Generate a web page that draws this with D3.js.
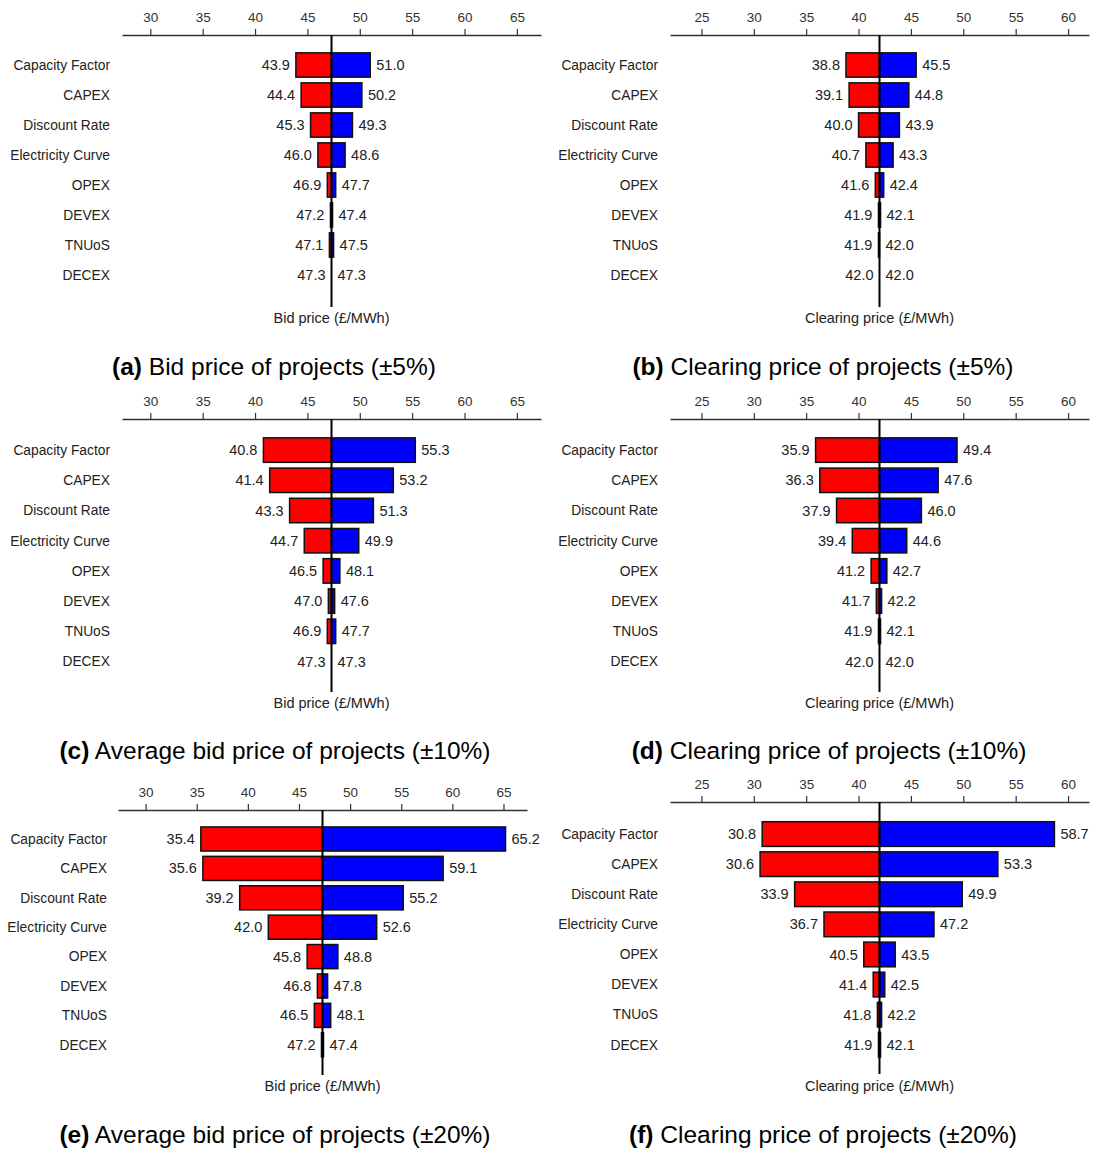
<!DOCTYPE html>
<html>
<head>
<meta charset="utf-8">
<script src="https://cdn.jsdelivr.net/npm/d3@7"></script>
<style>
  html, body { margin: 0; padding: 0; background: #fff; }
  svg { display: block; font-family: "Liberation Sans", Arial, Helvetica, sans-serif; }
</style>
</head>
<body>
<svg id="chart" width="1094" height="1149"></svg>
<script>
// Sensitivity parameters, top to bottom
const categories = ["Capacity Factor", "CAPEX", "Discount Rate", "Electricity Curve", "OPEX", "DEVEX", "TNUoS", "DECEX"];

// Axis tick labels
const bidTicks = [30, 35, 40, 45, 50, 55, 60, 65];
const clearingTicks = [25, 30, 35, 40, 45, 50, 55, 60];

// Central (reference) values
const bidBase = 47.3;
const clearingBase = 42.0;

// (a) Bid price, ±5%
const bid5Low  = [43.9, 44.4, 45.3, 46.0, 46.9, 47.2, 47.1, 47.3];
const bid5High = [51.0, 50.2, 49.3, 48.6, 47.7, 47.4, 47.5, 47.3];
// (b) Clearing price, ±5%
const clr5Low  = [38.8, 39.1, 40.0, 40.7, 41.6, 41.9, 41.9, 42.0];
const clr5High = [45.5, 44.8, 43.9, 43.3, 42.4, 42.1, 42.0, 42.0];
// (c) Average bid price, ±10%
const bid10Low  = [40.8, 41.4, 43.3, 44.7, 46.5, 47.0, 46.9, 47.3];
const bid10High = [55.3, 53.2, 51.3, 49.9, 48.1, 47.6, 47.7, 47.3];
// (d) Clearing price, ±10%
const clr10Low  = [35.9, 36.3, 37.9, 39.4, 41.2, 41.7, 41.9, 42.0];
const clr10High = [49.4, 47.6, 46.0, 44.6, 42.7, 42.2, 42.1, 42.0];
// (e) Average bid price, ±20%
const bid20Low  = [35.4, 35.6, 39.2, 42.0, 45.8, 46.8, 46.5, 47.2];
const bid20High = [65.2, 59.1, 55.2, 52.6, 48.8, 47.8, 48.1, 47.4];
// (f) Clearing price, ±20%
const clr20Low  = [30.8, 30.6, 33.9, 36.7, 40.5, 41.4, 41.8, 41.9];
const clr20High = [58.7, 53.3, 49.9, 47.2, 43.5, 42.5, 42.2, 42.1];

const panels = [
  { tag: "(a)", caption: " Bid price of projects (±5%)", axisLabel: "Bid price (£/MWh)",
    base: bidBase, low: bid5Low, high: bid5High, ticks: bidTicks,
    box: { x0: 122, x1: 541, axisY: 35, rowTop: 50, pitch: 30, pad: 0.19, lineEnd: 307, labelY: 318, catX: 110, capX: 274, capY: 366 } },
  { tag: "(b)", caption: " Clearing price of projects (±5%)", axisLabel: "Clearing price (£/MWh)",
    base: clearingBase, low: clr5Low, high: clr5High, ticks: clearingTicks,
    box: { x0: 670, x1: 1089, axisY: 35, rowTop: 50, pitch: 30, pad: 0.19, lineEnd: 307, labelY: 318, catX: 658, capX: 823, capY: 366 } },
  { tag: "(c)", caption: " Average bid price of projects (±10%)", axisLabel: "Bid price (£/MWh)",
    base: bidBase, low: bid10Low, high: bid10High, ticks: bidTicks,
    box: { x0: 122, x1: 541, axisY: 419, rowTop: 435, pitch: 30.2, pad: 0.19, lineEnd: 692, labelY: 703, catX: 110, capX: 275, capY: 750 } },
  { tag: "(d)", caption: " Clearing price of projects (±10%)", axisLabel: "Clearing price (£/MWh)",
    base: clearingBase, low: clr10Low, high: clr10High, ticks: clearingTicks,
    box: { x0: 670, x1: 1089, axisY: 419, rowTop: 435, pitch: 30.2, pad: 0.19, lineEnd: 692, labelY: 703, catX: 658, capX: 829, capY: 750 } },
  { tag: "(e)", caption: " Average bid price of projects (±20%)", axisLabel: "Bid price (£/MWh)",
    base: bidBase, low: bid20Low, high: bid20High, ticks: bidTicks,
    box: { x0: 118, x1: 527, axisY: 810, rowTop: 824.3, pitch: 29.4, pad: 0.18, lineEnd: 1075, labelY: 1086, catX: 107, capX: 275, capY: 1134 } },
  { tag: "(f)", caption: " Clearing price of projects (±20%)", axisLabel: "Clearing price (£/MWh)",
    base: clearingBase, low: clr20Low, high: clr20High, ticks: clearingTicks,
    box: { x0: 670, x1: 1089, axisY: 802, rowTop: 819, pitch: 30.1, pad: 0.18, lineEnd: 1074, labelY: 1086, catX: 658, capX: 823, capY: 1134 } }
];

const svg = d3.select("#chart");
const fmt = d3.format(".1f");

panels.forEach(p => {
  const b = p.box;
  const g = svg.append("g");

  const x = d3.scaleLinear().domain([p.base - 20, p.base + 20]).range([b.x0, b.x1]);
  const y = d3.scaleBand().domain(categories)
    .range([b.rowTop, b.rowTop + b.pitch * categories.length])
    .paddingInner(b.pad).paddingOuter(b.pad / 2);

  // top axis
  const axis = g.append("g")
    .attr("transform", `translate(0,${b.axisY})`)
    .call(d3.axisTop(x).tickValues(p.ticks).tickFormat(d3.format("d")).tickSize(6).tickSizeOuter(0).tickPadding(7));
  axis.select(".domain").attr("stroke", "#333").attr("stroke-width", 1.5);
  axis.selectAll(".tick line").attr("stroke", "#333").attr("stroke-width", 1.2);
  axis.selectAll(".tick text").attr("fill", "#333").attr("font-size", 13.5).attr("font-family", null);

  const rows = categories.map((c, i) => ({ name: c, lo: p.low[i], hi: p.high[i] }));

  // category labels
  g.selectAll(".cat").data(rows).join("text")
    .attr("x", b.catX)
    .attr("y", d => y(d.name) + y.bandwidth() / 2)
    .attr("dy", "0.35em")
    .attr("text-anchor", "end")
    .attr("font-size", 13.8)
    .attr("fill", "#222")
    .text(d => d.name);

  // low-side bars (red)
  g.selectAll(".lo").data(rows).join("rect")
    .attr("x", d => x(Math.min(d.lo, p.base)))
    .attr("y", d => y(d.name))
    .attr("width", d => Math.abs(x(p.base) - x(d.lo)))
    .attr("height", y.bandwidth())
    .attr("fill", "#ff0000")
    .attr("stroke", "#111")
    .attr("stroke-width", 1.5);

  // high-side bars (blue)
  g.selectAll(".hi").data(rows).join("rect")
    .attr("x", d => x(Math.min(d.hi, p.base)))
    .attr("y", d => y(d.name))
    .attr("width", d => Math.abs(x(d.hi) - x(p.base)))
    .attr("height", y.bandwidth())
    .attr("fill", "#0000ff")
    .attr("stroke", "#111")
    .attr("stroke-width", 1.5);

  // central value line
  g.append("line")
    .attr("x1", x(p.base)).attr("x2", x(p.base))
    .attr("y1", b.axisY).attr("y2", b.lineEnd)
    .attr("stroke", "#000").attr("stroke-width", 2);

  // value labels
  g.selectAll(".lolab").data(rows).join("text")
    .attr("x", d => Math.min(x(d.lo), x(p.base)) - 6)
    .attr("y", d => y(d.name) + y.bandwidth() / 2)
    .attr("dy", "0.35em")
    .attr("text-anchor", "end")
    .attr("font-size", 14.5)
    .attr("fill", "#222")
    .text(d => fmt(d.lo));

  g.selectAll(".hilab").data(rows).join("text")
    .attr("x", d => Math.max(x(d.hi), x(p.base)) + 6)
    .attr("y", d => y(d.name) + y.bandwidth() / 2)
    .attr("dy", "0.35em")
    .attr("text-anchor", "start")
    .attr("font-size", 14.5)
    .attr("fill", "#222")
    .text(d => fmt(d.hi));

  // axis title
  g.append("text")
    .attr("x", x(p.base))
    .attr("y", b.labelY)
    .attr("dy", "0.35em")
    .attr("text-anchor", "middle")
    .attr("font-size", 14.5)
    .attr("fill", "#222")
    .text(p.axisLabel);

  // sub-figure caption
  const cap = g.append("text")
    .attr("x", b.capX)
    .attr("y", b.capY)
    .attr("dy", "0.35em")
    .attr("text-anchor", "middle")
    .attr("font-size", 24.5)
    .attr("fill", "#000");
  cap.append("tspan").attr("font-weight", "bold").text(p.tag);
  cap.append("tspan").text(p.caption);
});
</script>
</body>
</html>
